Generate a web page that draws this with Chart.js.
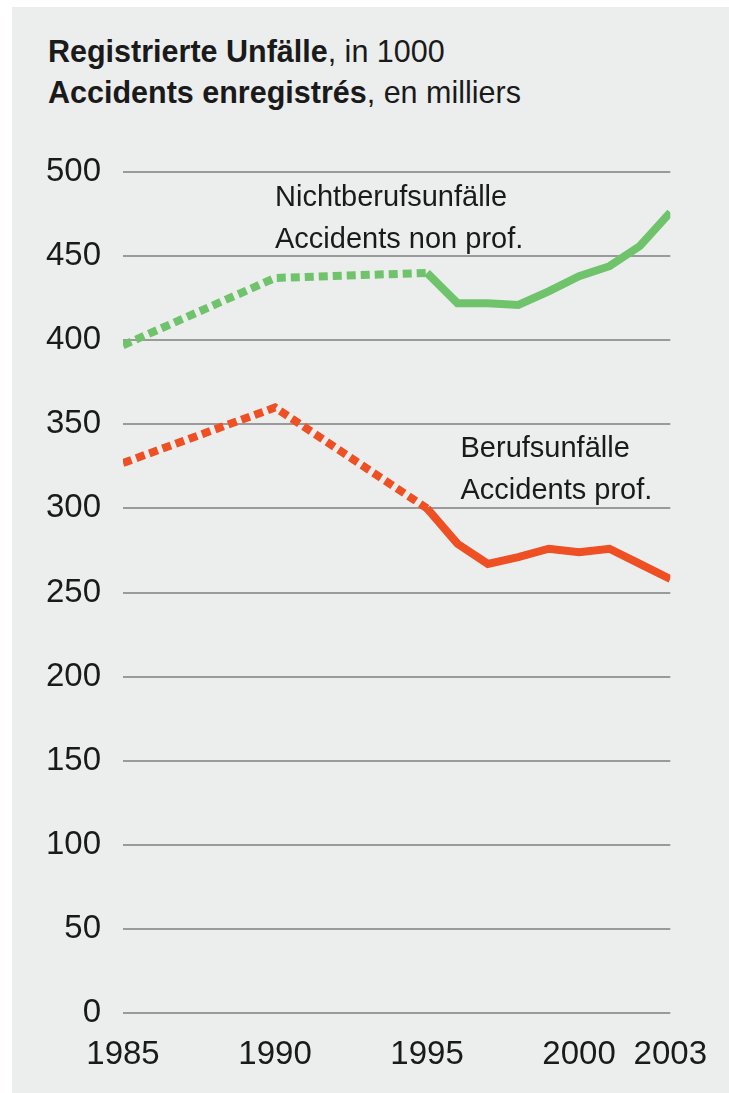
<!DOCTYPE html>
<html>
<head>
<meta charset="utf-8">
<script src="https://cdn.jsdelivr.net/npm/chart.js@4/dist/chart.umd.min.js"></script>
<style>
    body { margin: 0; background: #ffffff; }
    #panel { position: absolute; left: 12px; top: 7px; width: 717px; height: 1086px; background: #eceded; }
    #title { position: absolute; left: 48px; top: 31px; font-family: "Liberation Sans Narrow", "Liberation Sans", sans-serif; font-size: 30.5px; line-height: 41px; color: #1a1a1a; }
    #title b { font-weight: bold; }
    #wrap { position: absolute; left: 0; top: 0; width: 729px; height: 1093px; }
</style>
</head>
<body>
<div id="panel"></div>
<div id="title">
    <div><b>Registrierte Unfälle</b>, in 1000</div>
    <div><b>Accidents enregistrés</b>, en milliers</div>
</div>
<div id="wrap"><canvas id="accidentsChart" width="729" height="1093"></canvas></div>
<script>
var years = [1985, 1990, 1995, 1996, 1997, 1998, 1999, 2000, 2001, 2002, 2003];
var nonProf = [397, 437, 440, 422, 422, 421, 429, 438, 444, 456, 476];
var prof = [327, 360, 300, 279, 267, 271, 276, 274, 276, 267, 258];
var xTicks = [1985, 1990, 1995, 2000, 2003];
var yTicks = [0, 50, 100, 150, 200, 250, 300, 350, 400, 450, 500];

var fontName = '"Liberation Sans Narrow", "Liberation Sans", sans-serif';

function points(values) {
    return years.map(function (y, i) {
        return { x: y, y: values[i] };
    });
}

// dotted until 1995, solid afterwards
function dashUntil1995(ctx) {
    return ctx.p1.parsed.x <= 1995 ? [9, 5] : undefined;
}

var labelsPlugin = {
    id: "lineLabels",
    afterDatasetsDraw: function (chart) {
        var c = chart.ctx;
        var xs = chart.scales.x;
        var ys = chart.scales.y;
        var notes = [
            { x: 1990, y: 480, lines: ["Nichtberufsunfälle", "Accidents non prof."] },
            { x: 1996.1, y: 330.5, lines: ["Berufsunfälle", "Accidents prof."] },
        ];
        c.save();
        c.font = "29px " + fontName;
        c.fillStyle = "#1a1a1a";
        c.textAlign = "left";
        c.textBaseline = "alphabetic";
        notes.forEach(function (n) {
            var px = xs.getPixelForValue(n.x);
            var py = ys.getPixelForValue(n.y);
            n.lines.forEach(function (t, i) {
                c.fillText(t, px, py + i * 42);
            });
        });
        c.restore();
    },
};

var ctx = document.getElementById("accidentsChart").getContext("2d");

var accidentsChart = new Chart(ctx, {
    type: "line",
    data: {
        datasets: [
            {
                label: "Nichtberufsunfälle",
                data: points(nonProf),
                borderColor: "#6fc36a",
                borderWidth: 8,
                pointRadius: 0,
                tension: 0,
                segment: { borderDash: dashUntil1995 },
            },
            {
                label: "Berufsunfälle",
                data: points(prof),
                borderColor: "#ee5024",
                borderWidth: 8,
                pointRadius: 0,
                tension: 0,
                segment: { borderDash: dashUntil1995 },
            },
        ],
    },
    options: {
        responsive: false,
        animation: false,
        layout: {
            padding: { left: 0, top: 172, right: 55, bottom: 0 },
        },
        scales: {
            x: {
                type: "linear",
                min: 1985,
                max: 2003,
                afterBuildTicks: function (s) {
                    s.ticks = xTicks.map(function (v) { return { value: v }; });
                },
                afterFit: function (s) { s.height = 80; },
                grid: { display: false, drawTicks: false },
                border: { display: false },
                ticks: {
                    font: { family: fontName, size: 33 },
                    color: "#1a1a1a",
                    padding: 22,
                    maxRotation: 0,
                    autoSkip: false,
                    callback: function (v) { return String(v); },
                },
            },
            y: {
                min: 0,
                max: 500,
                afterBuildTicks: function (s) {
                    s.ticks = yTicks.map(function (v) { return { value: v }; });
                },
                afterFit: function (s) { s.width = 123; },
                grid: { color: "#9a9a9a", lineWidth: 2, drawTicks: false },
                border: { display: false },
                ticks: {
                    font: { family: fontName, size: 33 },
                    color: "#1a1a1a",
                    padding: 22,
                },
            },
        },
        plugins: {
            legend: { display: false },
            tooltip: { enabled: false },
        },
    },
    plugins: [labelsPlugin],
});
</script>
</body>
</html>
